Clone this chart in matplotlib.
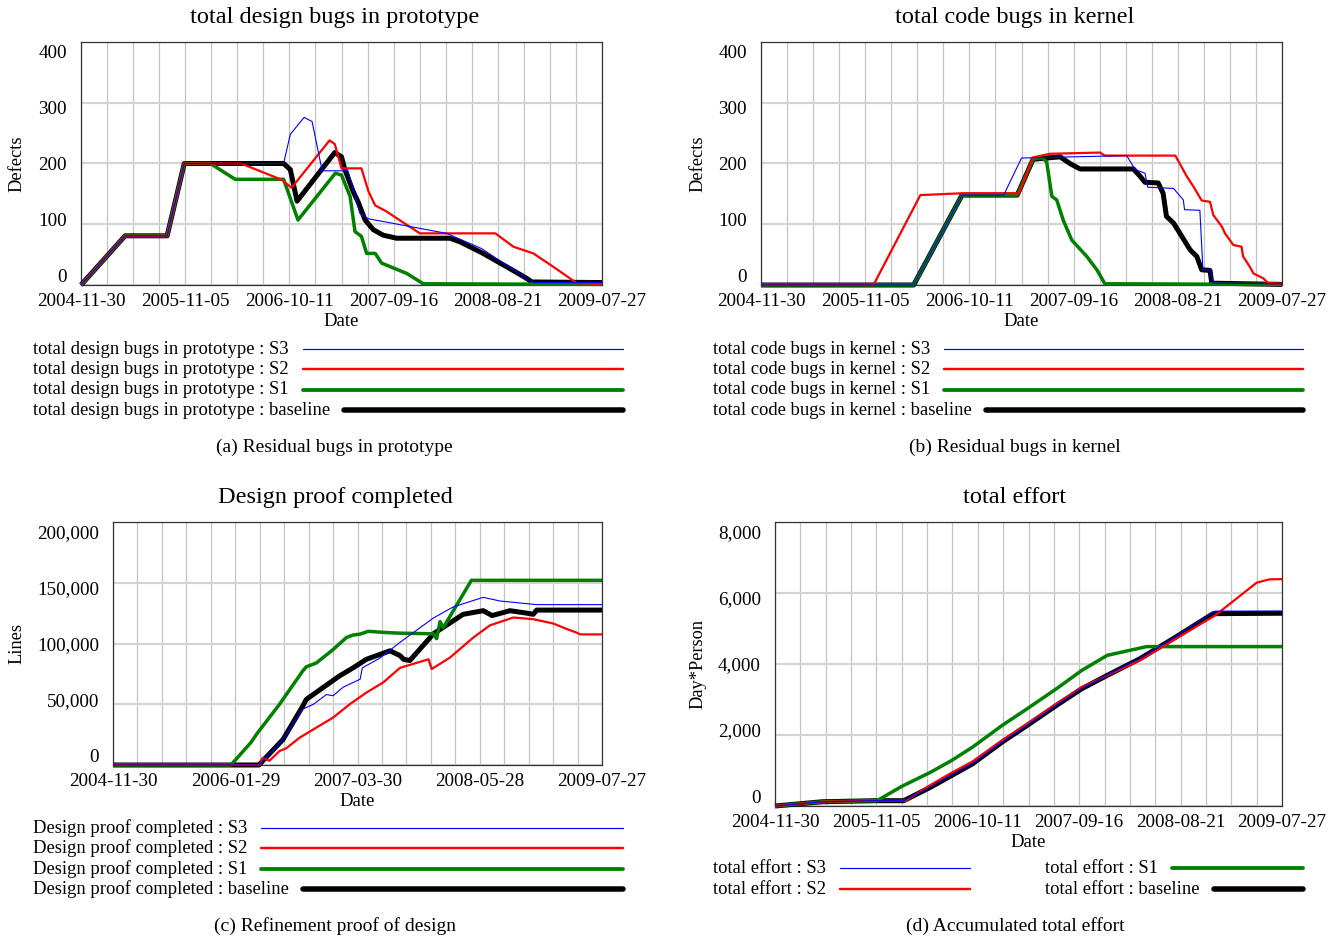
import numpy as np
import matplotlib
matplotlib.use('Agg')
import matplotlib.pyplot as plt
from matplotlib.lines import Line2D
from matplotlib import transforms

plt.rcParams['font.family'] = ['Liberation Serif', 'DejaVu Serif']

W, H = 1336, 938

# x axis: days since 2004-11-30, grid every 85 days
dates_a = ['2004-11-30', '2005-11-05', '2006-10-11', '2007-09-16', '2008-08-21', '2009-07-27']
dates_c = ['2004-11-30', '2006-01-29', '2007-03-30', '2008-05-28', '2009-07-27']

# (a) total design bugs in prototype
a_s3_x = [0, 144, 281, 337, 661, 683, 728, 754, 787, 871, 910, 938, 1193, 1307, 1465, 1480, 1700]
a_s3_y = [0, 81, 81, 200, 200, 248, 276, 269, 188, 188, 118, 109, 85, 60, 7, 4, 4]
a_s2_x = [0, 144, 281, 337, 522, 656, 687, 811, 828, 850, 915, 938, 960, 997, 1063, 1106, 1352, 1411, 1476, 1541, 1618, 1700]
a_s2_y = [0, 81, 81, 200, 200, 173, 160, 238, 232, 192, 192, 154, 131, 121, 99, 85, 85, 63, 52, 30, 3, 2]
a_s1_x = [0, 144, 281, 337, 422, 503, 661, 708, 830, 850, 878, 894, 915, 932, 960, 981, 1063, 1117, 1700]
a_s1_y = [0, 81, 81, 200, 200, 174, 174, 107, 184, 181, 146, 88, 80, 52, 52, 36, 19, 2, 1]
a_base_x = [0, 144, 281, 337, 661, 683, 705, 828, 850, 861, 888, 904, 927, 954, 986, 1030, 1204, 1237, 1312, 1389, 1454, 1471, 1700]
a_base_y = [0, 81, 81, 200, 200, 190, 138, 218, 211, 190, 154, 137, 107, 91, 82, 77, 77, 71, 52, 30, 11, 5, 4]

# (b) total code bugs in kernel
b_s3_x = [0, 498, 656, 792, 850, 1193, 1221, 1253, 1262, 1346, 1378, 1382, 1432, 1442, 1465, 1476, 1700]
b_s3_y = [0, 0, 148, 148, 209, 213, 190, 184, 161, 159, 140, 124, 123, 25, 25, 3, 2]
b_s2_x = [0, 367, 520, 656, 842, 888, 943, 1106, 1122, 1352, 1389, 1411, 1438, 1465, 1476, 1504, 1514, 1541, 1568, 1573, 1595, 1607, 1639, 1655, 1700]
b_s2_y = [0, 0, 148, 151, 151, 210, 216, 218, 213, 213, 179, 162, 139, 137, 115, 96, 85, 66, 63, 47, 30, 19, 11, 3, 2]
b_s1_x = [0, 498, 656, 836, 888, 915, 932, 949, 965, 986, 1014, 1063, 1096, 1122, 1700]
b_s1_y = [0, 0, 148, 148, 207, 210, 203, 146, 140, 107, 74, 47, 25, 2, 1]
b_base_x = [0, 498, 656, 836, 888, 976, 1008, 1041, 1215, 1237, 1253, 1296, 1312, 1323, 1346, 1367, 1400, 1422, 1438, 1465, 1471, 1700]
b_base_y = [0, 0, 148, 148, 207, 211, 200, 191, 191, 179, 169, 168, 151, 113, 102, 85, 58, 47, 25, 24, 3, 1]

# (c) Design proof completed (lines)
c_s3_x = [0, 507, 591, 660, 697, 742, 765, 800, 859, 867, 928, 998, 1114, 1182, 1287, 1345, 1473, 1700]
c_s3_y = [0, 0, 21000, 46000, 50000, 58000, 57000, 64000, 70600, 80000, 88000, 101000, 121000, 130000, 138000, 135000, 132000, 132000]
c_s2_x = [0, 510, 520, 544, 579, 602, 649, 707, 765, 823, 881, 939, 998, 1097, 1108, 1172, 1253, 1311, 1392, 1461, 1530, 1577, 1611, 1624, 1700]
c_s2_y = [0, 0, 6000, 3500, 11500, 13700, 22500, 30800, 39000, 50000, 59600, 67900, 80000, 87000, 79000, 88500, 105000, 115000, 121400, 120000, 116500, 112000, 109000, 107500, 107500]
c_s1_x = [0, 410, 479, 503, 579, 660, 672, 707, 765, 812, 835, 859, 887, 952, 998, 1114, 1125, 1137, 1148, 1246, 1700]
c_s1_y = [0, 0, 18400, 26600, 50000, 77500, 80800, 84000, 95000, 105000, 107000, 107700, 110000, 109000, 108500, 108000, 104000, 118000, 113000, 152000, 152000]
c_base_x = [0, 507, 591, 660, 672, 730, 788, 835, 881, 928, 963, 998, 1010, 1032, 1114, 1217, 1287, 1318, 1380, 1438, 1461, 1473, 1700]
c_base_y = [0, 0, 21000, 48600, 54000, 63700, 73400, 80000, 87000, 91000, 94000, 90000, 87000, 86000, 108000, 124000, 127000, 123000, 127000, 125000, 124000, 127500, 127500]

# (d) total effort (Day*Person)
d_s3_x = [0, 159, 342, 432, 523, 593, 663, 762, 846, 944, 1029, 1114, 1224, 1335, 1476, 1700]
d_s3_y = [0, 120, 150, 150, 545, 875, 1200, 1810, 2280, 2845, 3315, 3690, 4160, 4730, 5490, 5490]
d_s2_x = [0, 159, 342, 439, 523, 593, 663, 762, 846, 944, 1029, 1224, 1335, 1476, 1547, 1615, 1658, 1700]
d_s2_y = [0, 120, 150, 150, 600, 940, 1258, 1850, 2320, 2883, 3352, 4103, 4666, 5370, 5840, 6291, 6385, 6390]
d_s1_x = [0, 159, 342, 425, 523, 593, 663, 762, 846, 944, 1029, 1114, 1246, 1700]
d_s1_y = [0, 120, 150, 553, 957, 1286, 1662, 2272, 2742, 3305, 3822, 4244, 4490, 4490]
d_base_x = [0, 159, 342, 432, 523, 593, 663, 762, 846, 944, 1029, 1114, 1224, 1335, 1469, 1700]
d_base_y = [0, 120, 150, 150, 535, 864, 1192, 1803, 2272, 2836, 3305, 3680, 4150, 4713, 5418, 5430]

scen = ['S3', 'S2', 'S1', 'baseline']
colors = {'S3': '#0000ff', 'S2': '#ff0000', 'S1': '#008000', 'baseline': '#000000'}
widths = {'S3': 0.8, 'S2': 1.6, 'S1': 2.5, 'baseline': 3.6}

panels = [
    dict(rect=(81, 42, 602, 285), title='total design bugs in prototype', tx=335,
         ylabel='Defects', ylx=17, ymax=400, ystep=100, dates=dates_a, dstep=340,
         data={'S3': (a_s3_x, a_s3_y), 'S2': (a_s2_x, a_s2_y), 'S1': (a_s1_x, a_s1_y), 'baseline': (a_base_x, a_base_y)},
         legend=[(33, 348, 623), (33, 368, 623), (33, 389, 623), (33, 409, 623)],
         caption='(a) Residual bugs in prototype', cap=(334, 446)),
    dict(rect=(761, 42, 1282, 285), title='total code bugs in kernel', tx=1015,
         ylabel='Defects', ylx=698, ymax=400, ystep=100, dates=dates_a, dstep=340,
         data={'S3': (b_s3_x, b_s3_y), 'S2': (b_s2_x, b_s2_y), 'S1': (b_s1_x, b_s1_y), 'baseline': (b_base_x, b_base_y)},
         legend=[(713, 348, 1303), (713, 368, 1303), (713, 389, 1303), (713, 409, 1303)],
         caption='(b) Residual bugs in kernel', cap=(1015, 446)),
    dict(rect=(113, 522, 602, 765), title='Design proof completed', tx=335,
         ylabel='Lines', ylx=17, ymax=200000, ystep=50000, dates=dates_c, dstep=425,
         data={'S3': (c_s3_x, c_s3_y), 'S2': (c_s2_x, c_s2_y), 'S1': (c_s1_x, c_s1_y), 'baseline': (c_base_x, c_base_y)},
         legend=[(33, 827, 623), (33, 847, 623), (33, 868, 623), (33, 888, 623)],
         caption='(c) Refinement proof of design', cap=(335, 925)),
    dict(rect=(775, 522, 1282, 806), title='total effort', tx=1015,
         ylabel='Day*Person', ylx=698, ymax=8000, ystep=2000, dates=dates_a, dstep=340,
         data={'S3': (d_s3_x, d_s3_y), 'S2': (d_s2_x, d_s2_y), 'S1': (d_s1_x, d_s1_y), 'baseline': (d_base_x, d_base_y)},
         legend=[(713, 867, 970), (713, 888, 970), (1045, 867, 1303), (1045, 888, 1303)],
         caption='(d) Accumulated total effort', cap=(1015, 925)),
]

fig = plt.figure(figsize=(W / 100, H / 100), dpi=100)
renderer = fig.canvas.get_renderer()

def fx(x):
    return x / W

def fy(y):
    return 1 - y / H

for p in panels:
    l, t, r, b = p['rect']
    ax = fig.add_axes([fx(l), fy(b), (r - l) / W, (b - t) / H])
    for s in ['baseline', 'S1', 'S2', 'S3']:
        xs, ys = p['data'][s]
        ax.plot(xs, ys, color=colors[s], lw=widths[s], clip_on=False,
                solid_joinstyle='round', solid_capstyle='butt', zorder=3)
    ax.set_xlim(0, 1700)
    ax.set_ylim(0, p['ymax'])
    ax.set_xticks(np.arange(0, 1701, p['dstep']), p['dates'])
    ax.set_xticks(np.arange(0, 1701, 85), minor=True)
    ax.set_yticks(np.arange(0, p['ymax'] + 1, p['ystep']), [])
    ax.tick_params(which='both', length=0, labelsize=13.8, pad=5.5)
    ax.grid(True, which='both', axis='x', color='#c4c4c4', lw=0.9)
    ax.grid(True, which='major', axis='y', color='#d4d4d4', lw=1.6)
    ax.set_axisbelow(True)
    for sp in ax.spines.values():
        sp.set_color('#333333')
        sp.set_linewidth(0.9)

    # y tick labels, squeezed inside the frame like the original tool does
    hpx = b - t
    off = transforms.offset_copy(ax.transAxes, fig=fig, x=-14, y=-2, units='dots')
    nlab = int(p['ymax'] / p['ystep'])
    for i in range(nlab + 1):
        v = i * p['ystep']
        frac = (10 + (hpx - 20) * i / nlab) / hpx
        ax.text(0, frac, f'{v:,}', transform=off, ha='right', va='center', fontsize=13.8)

    fig.text(fx(p['tx']), fy(18 if t < 300 else 497), p['title'], ha='center', va='center', fontsize=17.5)
    fig.text(fx((l + r) / 2), fy(b + 36), 'Date', ha='center', va='center', fontsize=13.5)
    fig.text(fx(p['ylx']), fy((t + b) / 2), p['ylabel'], ha='center', va='center', rotation=90, fontsize=13.2)

    prefix = p['title']
    for s, (lx, ly, lend) in zip(scen, p['legend']):
        txt = fig.text(fx(lx), fy(ly + 1), f'{prefix} : {s}', ha='left', va='center', fontsize=13.4)
        bb = txt.get_window_extent(renderer=renderer)
        x0 = bb.x1 + 14
        fig.add_artist(Line2D([fx(x0), fx(lend)], [fy(ly + 1), fy(ly + 1)], transform=fig.transFigure,
                              color=colors[s], lw=widths[s] * 1.1, solid_capstyle='round'))

    fig.text(fx(p['cap'][0]), fy(p['cap'][1] + 1), p['caption'], ha='center', va='center', fontsize=14)

fig.savefig('out.png', dpi=100)
